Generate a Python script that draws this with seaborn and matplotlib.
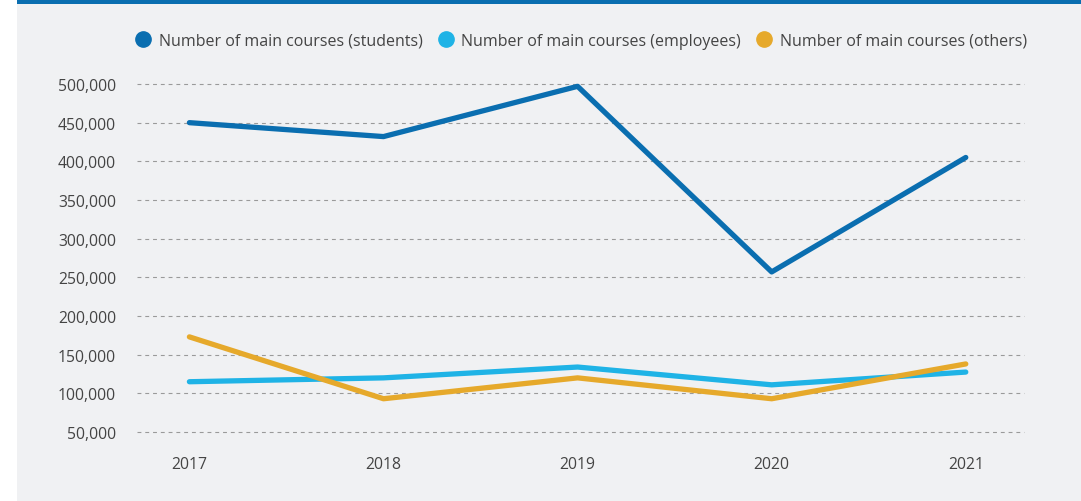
import pandas as pd
import matplotlib
matplotlib.use('Agg')
import matplotlib.pyplot as plt
import seaborn as sns
from matplotlib.lines import Line2D
from matplotlib.patches import Rectangle
from matplotlib.ticker import FuncFormatter

years = ['2017', '2018', '2019', '2020', '2021']
students = [450000, 432000, 497000, 257000, 405000]
employees = [115000, 120000, 134000, 111000, 127500]
others = [173000, 93000, 120000, 93000, 138000]
series_names = ['Number of main courses (students)',
                'Number of main courses (employees)',
                'Number of main courses (others)']
colors = ['#0a6eb0', '#1fb3e6', '#e6a92b']

df = pd.DataFrame({'year': years * 3,
                   'value': students + employees + others,
                   'series': [series_names[0]] * 5 + [series_names[1]] * 5 + [series_names[2]] * 5})

sns.set_style('white')
plt.rcParams['font.family'] = ['Open Sans', 'DejaVu Sans']

fig = plt.figure(figsize=(10.81, 5.02), dpi=100)
fig.patch.set_facecolor('white')
fig.patches.append(Rectangle((17 / 1081, 0), 1, 1, transform=fig.transFigure,
                             facecolor='#f0f1f3', edgecolor='none', zorder=-2))
fig.patches.append(Rectangle((17 / 1081, 1 - 5 / 502), 1, 5 / 502, transform=fig.transFigure,
                             facecolor='#0a6eb0', edgecolor='none', zorder=-1))

ax = fig.add_axes([137 / 1081, 69 / 502, (1024 - 137) / 1081, (433 - 85) / 502])
ax.set_facecolor('none')
sns.lineplot(data=df, x='year', y='value', hue='series', palette=colors,
             linewidth=3.8, ax=ax, legend=False, sort=False)
for ln in ax.lines:
    ln.set_clip_on(False)
    ln.set_solid_capstyle('round')

ax.set_ylim(50000, 500000)
ax.set_xlim(-0.27, 4.30)
ax.set_yticks(range(50000, 500001, 50000))
ax.yaxis.set_major_formatter(FuncFormatter(lambda v, p: f'{int(v):,}'))
ax.grid(axis='y', color='#9a9a9a', linestyle=(0, (3.5, 3.5)), linewidth=0.8)
for gl in ax.get_ygridlines():
    gl.set_clip_on(False)
ax.set_axisbelow(True)
for s in ax.spines.values():
    s.set_visible(False)
ax.tick_params(axis='y', length=0, pad=15, labelsize=11.3, labelcolor='#444444')
ax.tick_params(axis='x', length=0, pad=17, labelsize=11.3, labelcolor='#444444')
ax.set_xlabel('')
ax.set_ylabel('')

handles = [Line2D([], [], linestyle='none', marker='o', markersize=11,
                  markerfacecolor=c, markeredgecolor=c) for c in colors]
fig.legend(handles, series_names, loc='center', bbox_to_anchor=(581 / 1081, 1 - 42 / 502),
           ncol=3, frameon=False, fontsize=11.5, labelcolor='#444444',
           handletextpad=0.5, columnspacing=0.9, handlelength=1.0)

fig.savefig('out.png', dpi=100)
